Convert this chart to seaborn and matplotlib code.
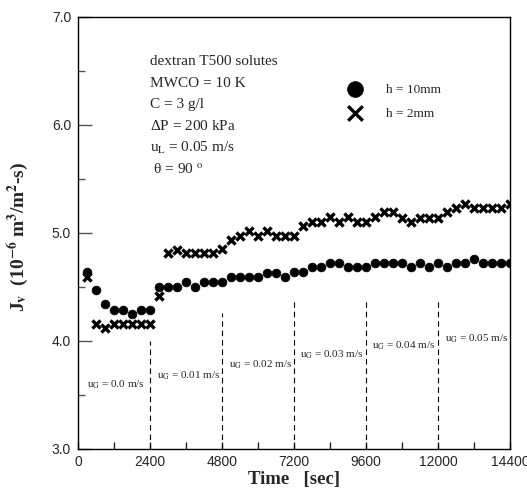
import numpy as np
import pandas as pd
import matplotlib.pyplot as plt
import seaborn as sns

# time axis (sec) and flux values
time_sec = [300 * k for k in range(1, 49)]

flux_h10 = [4.64, 4.47, 4.34, 4.29, 4.29, 4.25, 4.29, 4.29,
            4.50, 4.50, 4.50, 4.55, 4.50, 4.55, 4.55, 4.55,
            4.59, 4.59, 4.59, 4.59, 4.63, 4.63, 4.59, 4.64,
            4.64, 4.68, 4.68, 4.72, 4.72, 4.68, 4.68, 4.68,
            4.72, 4.72, 4.72, 4.72, 4.68, 4.72, 4.68, 4.72,
            4.68, 4.72, 4.72, 4.76, 4.72, 4.72, 4.72, 4.72]

flux_h2 = [4.59, 4.16, 4.12, 4.16, 4.16, 4.16, 4.16, 4.16,
           4.42, 4.81, 4.84, 4.81, 4.81, 4.81, 4.81, 4.85,
           4.93, 4.97, 5.02, 4.97, 5.02, 4.97, 4.97, 4.97,
           5.06, 5.10, 5.10, 5.15, 5.10, 5.15, 5.10, 5.10,
           5.15, 5.19, 5.19, 5.14, 5.10, 5.14, 5.14, 5.14,
           5.19, 5.23, 5.27, 5.23, 5.23, 5.23, 5.23, 5.27]

# gas velocity step changes
step_times = [2400, 4800, 7200, 9600, 12000]
step_line_tops = [4.0, 4.26, 4.38, 4.38, 4.40]
ug_labels = ["0.0", "0.01", "0.02", "0.03", "0.04", "0.05"]
ug_label_x = [300, 2630, 5020, 7390, 9790, 12220]
ug_label_y = [3.59, 3.68, 3.78, 3.87, 3.96, 4.02]

conditions = ["dextran T500 solutes", "MWCO = 10 K", "C = 3 g/l",
              r"$\Delta$P = 200 kPa", r"u$_\mathrm{L}$ = 0.05 m/s", r" $\theta$ = 90 $^\mathrm{o}$"]

df = pd.DataFrame({"time": time_sec * 2,
                   "flux": flux_h10 + flux_h2,
                   "h": ["h = 10mm"] * 48 + ["h = 2mm"] * 48})

sns.set_theme(style="ticks")
plt.rcParams["font.family"] = ["Liberation Serif", "DejaVu Serif"]
plt.rcParams["mathtext.fontset"] = "stix"
plt.rcParams["mathtext.default"] = "regular"

fig = plt.figure(figsize=(5.27, 4.95), dpi=100)
ax = fig.add_axes([0.148, 0.093, 0.820, 0.873])

sns.scatterplot(data=df[df["h"] == "h = 10mm"], x="time", y="flux", ax=ax,
                color="black", marker="o", s=40, edgecolor="black", label="h = 10mm")
sns.scatterplot(data=df[df["h"] == "h = 2mm"], x="time", y="flux", ax=ax,
                color="black", marker="x", s=34, linewidth=2.4, label="h = 2mm")

for t, top in zip(step_times, step_line_tops):
    ax.vlines(t, 3.0, top, colors="black", linewidth=0.8, linestyles=(0, (5, 3.5)))

for lab, x, y in zip(ug_labels, ug_label_x, ug_label_y):
    ax.text(x, y, r"u$_\mathrm{G}$ = " + lab + " m/s", fontsize=8, va="center", ha="left")

for i, line in enumerate(conditions):
    ax.annotate(line, xy=(2390, 6.586), xycoords="data",
                xytext=(0, -i * 15.5), textcoords="offset points",
                fontsize=11, va="center", ha="left")

leg = ax.legend(loc="upper left", bbox_to_anchor=(0.614, 0.858), frameon=False,
                markerscale=1.8, fontsize=9.5, handlelength=1.0,
                handletextpad=1.8, labelspacing=0.88, borderaxespad=0)

ax.set_xlim(0, 14400)
ax.set_ylim(3.0, 7.0)
ax.set_xticks(np.arange(0, 14401, 2400))
ax.set_xticks(np.arange(1200, 14400, 2400), minor=True)
ax.set_yticks(np.arange(3.0, 7.01, 1.0))
ax.set_yticks(np.arange(3.5, 7.0, 1.0), minor=True)
ax.set_yticklabels([f"{v:.1f}" for v in np.arange(3.0, 7.01, 1.0)])

ax.tick_params(axis="x", which="both", direction="in", length=5, width=1,
               top=False, labelsize=10, pad=4)
ax.tick_params(axis="y", which="major", direction="in", length=10, width=1,
               color="#555555", right=False, labelsize=10, pad=5)
ax.tick_params(axis="y", which="minor", direction="in", length=5, width=1,
               color="#555555", right=False)
for lab in ax.get_xticklabels() + ax.get_yticklabels():
    lab.set_family(["Liberation Sans", "DejaVu Sans"])

for sp in ax.spines.values():
    sp.set_visible(True)
    sp.set_color("black")
    sp.set_linewidth(1)

ax.set_xlabel("Time   [sec]", fontsize=13.5, fontweight="bold", labelpad=2)
ax.set_ylabel(r"J$_\mathbf{v}$  (10$^\mathbf{-6}$ m$^\mathbf{3}$/m$^\mathbf{2}$-s)", fontsize=14,
              fontweight="bold")
ax.yaxis.set_label_coords(-0.109, 0.49)

fig.savefig("out.png", dpi=100)
